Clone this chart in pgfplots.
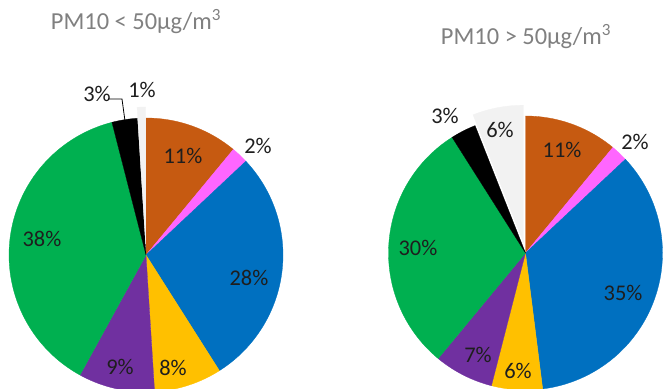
\documentclass[border=0pt]{standalone}
\usepackage{pgfplots}
\pgfplotsset{compat=1.18}
\usepackage{pgfplotstable}
\usepackage{fontspec}
\setmainfont{Carlito}
\definecolor{cBrown}{HTML}{C65A11}
\definecolor{cMag}{HTML}{FF66FF}
\definecolor{cBlue}{HTML}{0070C0}
\definecolor{cYel}{HTML}{FFC000}
\definecolor{cPur}{HTML}{7030A0}
\definecolor{cGreen}{HTML}{00B050}
\definecolor{cBlack}{HTML}{000000}
\definecolor{cGray}{HTML}{F2F2F2}
\definecolor{lblc}{HTML}{1E1E1E}
\definecolor{titc}{HTML}{808080}
\newcommand\lbl{\fontsize{22.5}{22.5}\selectfont}
\newcommand\ttl{\fontsize{24.5}{24.5}\selectfont}

% share (%), colour, explode offset, label position (px)
\pgfplotstableread{
pct col ex lx ly
11 cBrown 0 183 156
2 cMag 0 258 146
28 cBlue 0 249 278
8 cYel 0 173 368
9 cPur 0 120 367
38 cGreen 0 42 239
3 cBlack 0 97 94
1 cGray 11 142 90
}\tabA
\pgfplotstableread{
pct col ex lx ly
11 cBrown 0 562 150
2 cMag 0 635 142
35 cBlue 0 623 293
6 cYel 0 518 371
7 cPur 0 478 355
30 cGreen 0 418 248
3 cBlack 0 445 116
6 cGray 11 500 130
}\tabB

\newcommand\drawpie[4]{%
  \pgfplotstablegetrowsof{#1}\pgfmathtruncatemacro\N{\pgfplotsretval-1}%
  \def\cum{0}%
  \pgfplotsforeachungrouped \i in {0,...,\N}{%
    \pgfplotstablegetelem{\i}{pct}\of#1\let\pct\pgfplotsretval
    \pgfplotstablegetelem{\i}{col}\of#1\let\col\pgfplotsretval
    \pgfplotstablegetelem{\i}{ex}\of#1\let\ex\pgfplotsretval
    \pgfplotstablegetelem{\i}{lx}\of#1\let\lx\pgfplotsretval
    \pgfplotstablegetelem{\i}{ly}\of#1\let\ly\pgfplotsretval
    \pgfmathsetmacro\a{90-3.6*\cum}%
    \pgfmathsetmacro\cum{\cum+\pct}%
    \pgfmathsetmacro\b{90-3.6*\cum}%
    \pgfmathsetmacro\m{(\a+\b)/2}%
    \pgfmathsetmacro\ccx{#2+\ex*cos(\m)}%
    \pgfmathsetmacro\ccy{#3-\ex*sin(\m)}%
    \edef\doit{\noexpand\addplot[fill=\col, draw=\col, line width=0.3pt, domain=\b:\a, samples=80, variable=\noexpand\t]
       ({\ccx+#4*cos(\noexpand\t)}, {\ccy-#4*sin(\noexpand\t)}) -- (axis cs:\ccx,\ccy) -- cycle;
       \noexpand\node[font=\noexpand\lbl, text=lblc, inner sep=0pt] at (axis cs:\lx,\ly) {\pct\noexpand\%};}%
    \doit
  }%
}

\begin{document}
\begin{tikzpicture}
\useasboundingbox (0,0) rectangle (663bp,389bp);
\begin{axis}[at={(0,0)}, anchor=south west, width=663bp, height=389bp, scale only axis,
  xmin=0, xmax=663, ymin=0, ymax=389, y dir=reverse, hide axis, clip=true]
\drawpie{\tabA}{146}{255}{137}
\drawpie{\tabB}{525.5}{253}{137}
\addplot[black, line width=0.8pt] coordinates {(108,99) (122,99) (125,121)};
\node[font=\ttl, text=titc] at (axis cs:136,22) {PM10 < 50μg/m\textsuperscript{3}};
\node[font=\ttl, text=titc] at (axis cs:526,37) {PM10 > 50μg/m\textsuperscript{3}};
\end{axis}
\end{tikzpicture}
\end{document}
